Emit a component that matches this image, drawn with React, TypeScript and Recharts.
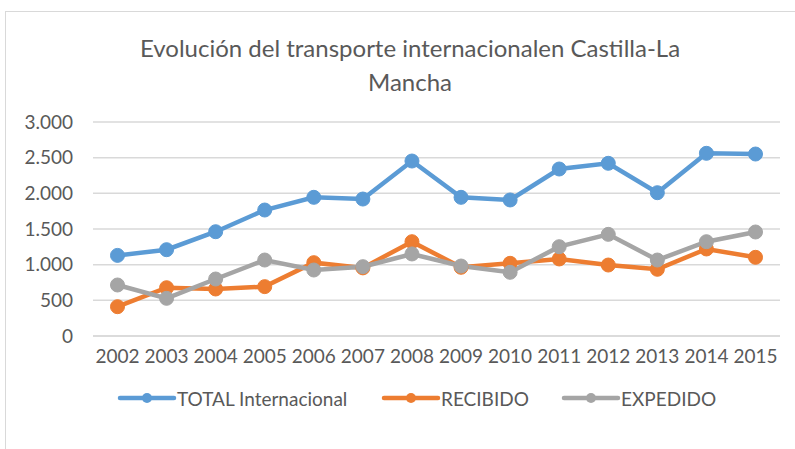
import React from 'react';
import { LineChart, Line, XAxis, YAxis, CartesianGrid } from 'recharts';

const years = ['2002','2003','2004','2005','2006','2007','2008','2009','2010','2011','2012','2013','2014','2015'];
const total = [1130, 1210, 1462, 1766, 1944, 1920, 2453, 1944, 1907, 2341, 2421, 2009, 2561, 2551];
const recibido = [411, 677, 659, 692, 1028, 955, 1322, 963, 1019, 1080, 995, 935, 1220, 1103];
const expedido = [715, 528, 799, 1065, 925, 972, 1150, 981, 893, 1252, 1425, 1065, 1322, 1458];
const yTicks = [0, 500, 1000, 1500, 2000, 2500, 3000];
const seriesNames = ['TOTAL Internacional', 'RECIBIDO', 'EXPEDIDO'];
const colors = ['#5B9BD5', '#ED7D31', '#A5A5A5'];

const data = years.map((y, i) => ({ year: y, total: total[i], recibido: recibido[i], expedido: expedido[i] }));

const FONT = 'Lato, "Open Sans", sans-serif';
const TXT = '#595959';

const fmt = (v: number) => v.toString().replace(/\B(?=(\d{3})+(?!\d))/g, '.');

const LegendBox = () => {
  const items = [
    { name: seriesNames[0], color: colors[0], left: 117 },
    { name: seriesNames[1], color: colors[1], left: 381 },
    { name: seriesNames[2], color: colors[2], left: 561 },
  ];
  return (
    <div style={{ position: 'absolute', left: 0, top: 385, width: 795, height: 26 }}>
      {items.map((it) => (
        <div key={it.name} style={{ position: 'absolute', left: it.left, top: 0, display: 'flex', alignItems: 'center', height: 26 }}>
          <svg width={60} height={16} style={{ display: 'block' }}>
            <line x1={3} y1={8} x2={57} y2={8} stroke={it.color} strokeWidth={4.5} strokeLinecap="round" />
            <circle cx={30} cy={8} r={5} fill={it.color} />
          </svg>
          <span style={{ fontFamily: FONT, fontSize: 19, color: TXT, marginLeft: 0, whiteSpace: 'nowrap' }}>{it.name}</span>
        </div>
      ))}
    </div>
  );
};

export default function App() {
  return (
    <div style={{ position: 'absolute', left: 0, top: 0, width: 795, height: 449, overflow: 'hidden', background: '#fff' }}>
      <div style={{ position: 'absolute', left: 5, top: 11, width: 820, height: 470, border: '1px solid #D9D9D9', boxSizing: 'border-box' }} />
      <div style={{ position: 'absolute', left: 0, top: 31, width: 820, textAlign: 'center', fontFamily: FONT, fontSize: 24, color: TXT, lineHeight: '34px' }}>
        <div>Evolución del transporte internacionalen Castilla-La</div>
        <div>Mancha</div>
      </div>
      <div style={{ position: 'absolute', left: 0, top: 0 }}>
        <LineChart width={795} height={449} data={data} margin={{ top: 122, right: 15, left: 0, bottom: 83 }}>
          <CartesianGrid vertical={false} stroke="#D9D9D9" strokeWidth={1.5} />
          <XAxis
            dataKey="year"
            height={30}
            axisLine={{ stroke: '#D9D9D9', strokeWidth: 1.5 }}
            tickLine={false}
            tick={{ fontFamily: FONT, fontSize: 19, fill: TXT }}
            tickMargin={8}
            interval={0}
            padding={{ left: 24.5, right: 24.5 }}
          />
          <YAxis
            width={93}
            domain={[0, 3000]}
            ticks={yTicks}
            axisLine={false}
            tickLine={false}
            tickSize={0}
            tickMargin={20}
            tickFormatter={fmt}
            tick={{ fontFamily: FONT, fontSize: 19, fill: TXT }}
          />
          <Line name={seriesNames[0]} dataKey="total" stroke={colors[0]} strokeWidth={4.5} dot={{ r: 7, fill: colors[0], stroke: colors[0], strokeWidth: 1 }} isAnimationActive={false} />
          <Line name={seriesNames[1]} dataKey="recibido" stroke={colors[1]} strokeWidth={4.5} dot={{ r: 7, fill: colors[1], stroke: colors[1], strokeWidth: 1 }} isAnimationActive={false} />
          <Line name={seriesNames[2]} dataKey="expedido" stroke={colors[2]} strokeWidth={4.5} dot={{ r: 7, fill: colors[2], stroke: colors[2], strokeWidth: 1 }} isAnimationActive={false} />
        </LineChart>
      </div>
      <LegendBox />
    </div>
  );
}
